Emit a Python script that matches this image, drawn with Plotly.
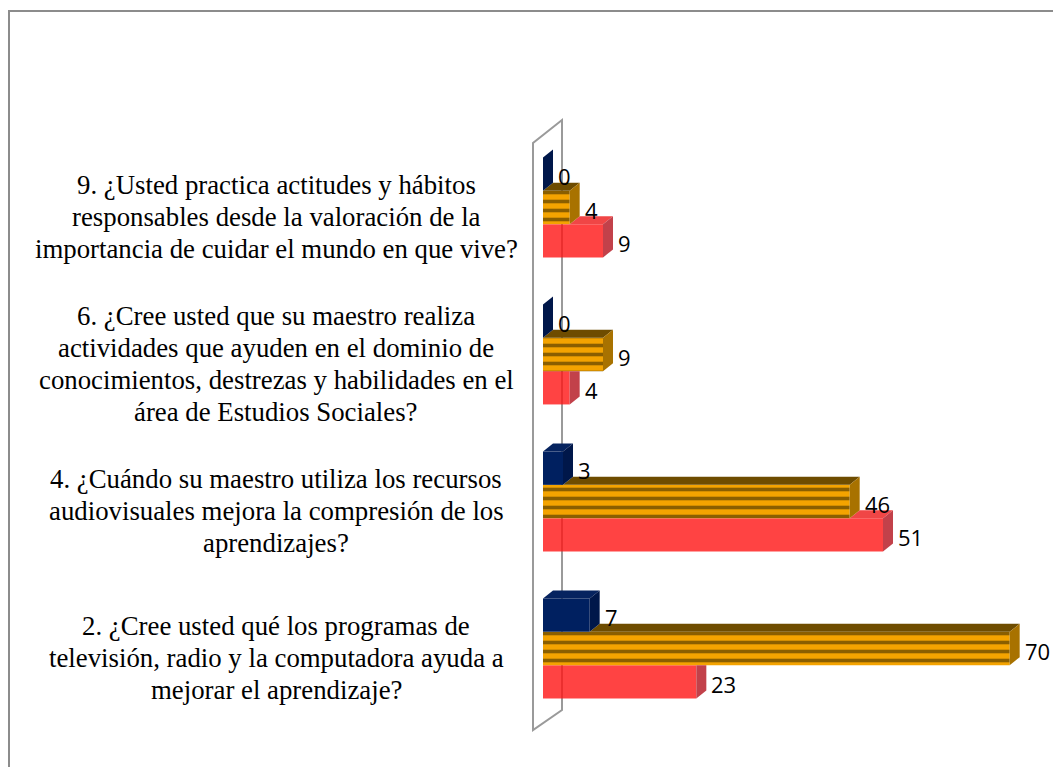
import plotly.graph_objects as go

# ---------------- data ----------------
questions = [
    "2. ¿Cree usted qué los programas de<br>televisión, radio y la computadora ayuda a<br>mejorar el aprendizaje?",
    "4. ¿Cuándo su maestro utiliza los recursos<br>audiovisuales mejora la compresión de los<br>aprendizajes?",
    "6. ¿Cree usted que su maestro realiza<br>actividades que ayuden en el dominio de<br>conocimientos, destrezas y habilidades en el<br>área de Estudios Sociales?",
    "9. ¿Usted practica actitudes y hábitos<br>responsables desde la valoración de la<br>importancia de cuidar el mundo en que vive?",
]
navy_vals = [7, 3, 0, 0]
gold_vals = [70, 46, 9, 4]
red_vals = [23, 51, 4, 9]

# ---------------- layout geometry ----------------
OFF = 8                      # page body margin
W, H = 1061 - OFF, 767 - OFF
ML, MR, MT, MB = 543 - OFF, 18, 134 - OFF, 45
PW, PH = W - ML - MR, H - MT - MB
XMAX = 75
PXX = PW / XMAX            # px per x unit
PXY = PH / 4.0             # px per category
DX = 10 / PXX              # 3D depth offset (x)
DY = 8 / PXY               # 3D depth offset (y)
BW = 33.3 / PXY            # bar thickness

NAVY, NAVY_TOP, NAVY_SIDE = "#002060", "#06235F", "#00174A"
GOLD_BG, GOLD_FG, GOLD_TOP, GOLD_SIDE = "#F4A300", "#8A5E00", "#6E4C00", "#A87200"
RED, RED_TOP, RED_SIDE = "rgba(255,20,20,0.80)", "#F04646", "#C2414A"

ypos = list(range(len(questions)))

fig = go.Figure()
common = dict(orientation="h", width=BW, showlegend=False, hoverinfo="skip")
fig.add_trace(go.Bar(x=red_vals, y=ypos, offset=-1.5 * BW,
                     marker=dict(color=RED, line=dict(width=0)), **common))
fig.add_trace(go.Bar(x=gold_vals, y=ypos, offset=-0.5 * BW,
                     marker=dict(color=GOLD_BG, line=dict(width=0),
                                 pattern=dict(shape="-", fgcolor=GOLD_FG, bgcolor=GOLD_BG,
                                              size=9, solidity=0.4, fillmode="replace")),
                     **common))
fig.add_trace(go.Bar(x=navy_vals, y=ypos, offset=0.5 * BW,
                     marker=dict(color=NAVY, line=dict(width=0)), **common))


def poly(pts):
    return "M " + " L ".join(f"{x},{y}" for x, y in pts) + " Z"


def px2paper(px, py):
    # px, py given in page pixels
    return (px - OFF - ML) / PW, (H - MB - (py - OFF)) / PH


shapes = []
# wall (parallelogram outline) and outer frame, in paper coords
wall_px = [(533, 143), (533, 730), (562, 710), (562, 120)]
shapes.append(dict(type="path", xref="paper", yref="paper", layer="below",
                   path=poly([px2paper(*p) for p in wall_px]),
                   line=dict(color="#9a9a9a", width=2), fillcolor="rgba(0,0,0,0)"))
fx0, fy0 = px2paper(9, 11)
shapes.append(dict(type="rect", xref="paper", yref="paper", layer="below",
                   x0=fx0, y0=-1, x1=2, y1=fy0,
                   line=dict(color="#8c8c8c", width=2), fillcolor="rgba(0,0,0,0)"))


def face(pts, color):
    shapes.append(dict(type="path", xref="x", yref="y", layer="above",
                       path=poly(pts), line=dict(width=0), fillcolor=color))


for i in ypos:
    r, g, n = red_vals[i], gold_vals[i], navy_vals[i]
    rb, rt = i - 1.5 * BW, i - 0.5 * BW
    gb, gt = i - 0.5 * BW, i + 0.5 * BW
    nb, nt = i + 0.5 * BW, i + 1.5 * BW
    # red faces
    if r > g:
        face([(g, rt), (r, rt), (r + DX, rt + DY), (g + DX, rt + DY)], RED_TOP)
        face([(r, rb), (r + DX, rb + DY), (r + DX, rt + DY), (r, rt)], RED_SIDE)
    else:
        face([(r, rb), (r + DX, rb + DY), (r + DX, rt), (r, rt)], RED_SIDE)
    # gold faces
    if g > n:
        face([(n, gt), (g, gt), (g + DX, gt + DY), (n + DX, gt + DY)], GOLD_TOP)
    face([(g, gb), (g + DX, gb + DY), (g + DX, gt + DY), (g, gt)], GOLD_SIDE)
    # navy faces
    if n > 0:
        face([(0, nt), (n, nt), (n + DX, nt + DY), (DX, nt + DY)], NAVY_TOP)
    face([(n, nb), (n + DX, nb + DY), (n + DX, nt + DY), (n, nt)], NAVY_SIDE)

annotations = []
# value labels
for vals, off in ((red_vals, -BW), (gold_vals, 0.0), (navy_vals, BW)):
    for i, v in zip(ypos, vals):
        annotations.append(dict(x=v + DX, y=i + off, xref="x", yref="y",
                                text=str(v), showarrow=False, xanchor="left",
                                yanchor="middle", xshift=3, yshift=-2,
                                font=dict(family="Open Sans, Lato, sans-serif",
                                          size=22, color="#000000")))

# category labels (one annotation per line, centred)
label_cx, _ = px2paper(276, 0)
for i, q in zip(ypos, questions):
    lines = q.split("<br>")
    nl = len(lines)
    for k, line in enumerate(lines):
        annotations.append(dict(x=label_cx, y=i, xref="paper", yref="y",
                                text=line, showarrow=False, xanchor="center",
                                yanchor="middle",
                                yshift=-9 - (k - (nl - 1) / 2) * 32,
                                font=dict(family="Liberation Serif, Times New Roman, serif",
                                          size=26.8, color="#000000")))

fig.update_layout(
    width=W, height=H,
    margin=dict(l=ML, r=MR, t=MT, b=MB),
    paper_bgcolor="white", plot_bgcolor="rgba(0,0,0,0)",
    barmode="overlay",
    xaxis=dict(range=[0, XMAX], visible=False, showgrid=False, zeroline=False),
    yaxis=dict(range=[-0.5, 3.5], visible=False, showgrid=False, zeroline=False),
    shapes=shapes, annotations=annotations,
    showlegend=False,
)

fig.write_html("out.html")
